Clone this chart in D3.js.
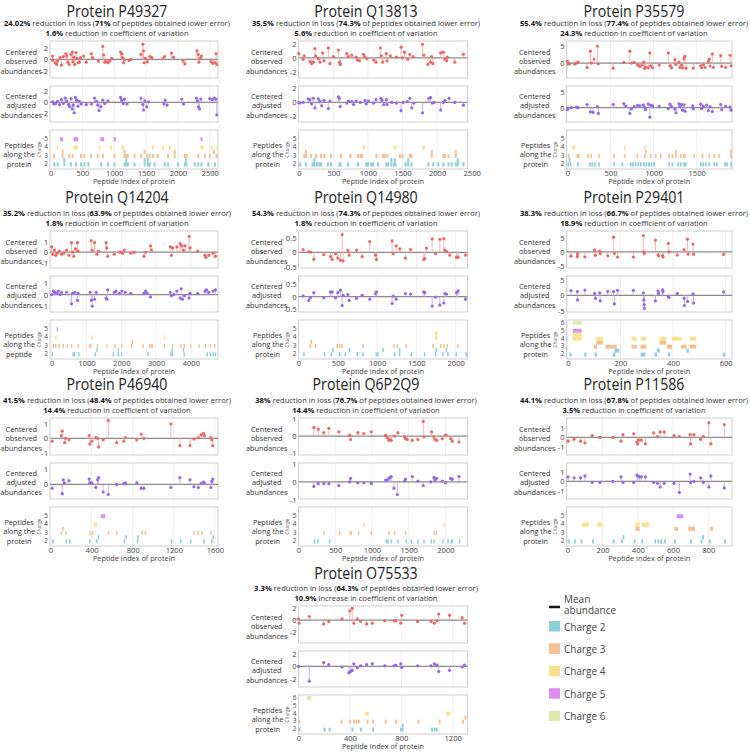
<!DOCTYPE html>
<html>
<head>
<meta charset="utf-8">
<script src="https://cdn.jsdelivr.net/npm/d3@7"></script>
<style>
  body { margin: 0; background: #fff; }
  text { font-family: "Open Sans", "Noto Sans", sans-serif; }
</style>
</head>
<body>
<svg width="750" height="752"></svg>
<script>
// ---- chart values ----
const proteins = ["P49327", "Q13813", "P35579", "Q14204", "Q14980", "P29401", "P46940", "Q6P2Q9", "P11586", "O75533"]
const lossReduction = ["24.02%", "35.5%", "55.4%", "35.2%", "54.3%", "38.3%", "41.5%", "38%", "44.1%", "3.3%"]
const lowerError = ["71%", "74.3%", "77.4%", "63.9%", "74.3%", "66.7%", "48.4%", "76.7%", "67.8%", "64.3%"]
const cvChange = ["1.6%", "5.6%", "24.3%", "1.8%", "1.8%", "18.9%", "14.4%", "14.4%", "3.5%", "10.9%"]
const cvDirection = ["reduction", "reduction", "reduction", "reduction", "reduction", "reduction", "reduction", "reduction", "reduction", "increase"]
const legendCharges = [2, 3, 4, 5, 6]

// observed / adjusted abundances: [peptide index, centered value]
const obsP49327 = [[30,0.6],[30,-0.2],[70,-0.6],[95,-0.9],[110,-0.3],[150,0.3],[170,-1.0],[200,0.5],[240,1.0],[255,0.6],[270,-0.5],[290,-0.9],[320,0.9],[340,1.3],[350,-0.4],[365,0.4],[380,-0.9],[400,1.2],[415,0.2],[430,-0.6],[450,-0.5],[470,0.3],[520,0.6],[560,-0.5],[640,1.0],[660,0.3],[750,-0.3],[820,2.3],[835,0.8],[850,-0.5],[870,-0.3],[900,-0.6],[930,-0.3],[960,0.2],[1100,1.3],[1120,1.0],[1130,0.3],[1145,-0.6],[1160,-0.1],[1230,-0.2],[1260,0.0],[1420,0.9],[1450,2.7],[1460,1.5],[1470,-0.6],[1490,0.2],[1520,-0.4],[1560,0.5],[1590,0.3],[1760,0.1],[1790,0.5],[1900,1.1],[1930,0.4],[2080,-0.3],[2110,-0.8],[2300,1.5],[2320,0.9],[2330,-0.5],[2350,0.2],[2370,0.6],[2520,-0.4],[2550,-0.7],[2580,-0.6],[2600,1.0],[2610,-0.9]]
const adjP49327 = [[30,0.1],[50,-0.3],[80,-0.2],[110,0.2],[140,-0.4],[170,0.5],[200,-0.2],[230,0.8],[250,0.3],[280,-0.4],[300,-0.8],[320,0.7],[340,-1.2],[355,-0.5],[370,-1.9],[390,0.9],[410,0.4],[430,-0.7],[450,0.2],[480,-0.3],[560,-0.4],[640,-0.3],[690,0.8],[720,0.2],[740,-0.5],[760,-1.5],[790,-0.8],[820,0.4],[850,-0.2],[900,0.3],[1100,0.9],[1120,0.4],[1140,-0.2],[1160,0.6],[1200,-0.3],[1420,0.8],[1450,-0.4],[1460,-1.4],[1480,0.3],[1510,-0.8],[1540,0.1],[1780,-0.3],[1800,0.4],[1830,-0.5],[2060,0.6],[2090,-0.3],[2290,0.8],[2310,0.3],[2320,-0.8],[2340,-1.2],[2360,0.6],[2500,0.7],[2540,0.5],[2570,0.8],[2600,0.6],[2610,-2.3]]
const obsQ13813 = [[0,0.6],[63,-0.2],[78,0.3],[160,-0.5],[184,-0.8],[209,-0.6],[233,1.3],[243,0.3],[281,-0.1],[306,-0.6],[344,0.7],[364,-0.4],[427,1.4],[451,-0.8],[500,0.2],[572,1.1],[587,-0.6],[597,-0.9],[600,-0.8],[694,0.6],[718,0.2],[766,0.4],[829,0.1],[849,-0.3],[878,-0.4],[936,0.5],[951,0.2],[985,-0.1],[1082,-0.3],[1116,-0.6],[1179,1.4],[1193,0.3],[1213,-0.6],[1266,0.6],[1276,-0.4],[1324,0.3],[1411,0.1],[1479,1.5],[1499,0.0],[1528,0.8],[1576,-0.2],[1605,0.5],[1654,0.2],[1790,1.9],[1809,0.4],[1867,-0.9],[1906,-0.6],[1921,0.2],[1940,-0.8],[2052,0.7],[2090,0.8],[2115,-0.2],[2139,-0.4],[2149,0.1],[2255,-0.6],[2381,0.5]]
const adjQ13813 = [[0,0.0],[15,-0.1],[63,0.0],[136,0.5],[160,0.4],[184,-0.2],[209,0.6],[233,-0.8],[281,0.5],[306,0.2],[330,-0.5],[364,0.3],[427,-0.9],[451,0.2],[572,0.8],[587,0.6],[597,-0.6],[694,-0.1],[718,0.2],[766,0.1],[791,-0.3],[829,0.2],[888,0.0],[960,0.3],[975,-0.2],[1009,0.2],[1082,-0.1],[1116,0.4],[1188,0.6],[1203,0.3],[1227,-0.3],[1266,0.4],[1276,-0.3],[1348,0.0],[1411,-0.1],[1479,-1.2],[1508,0.0],[1567,0.1],[1605,0.6],[1634,-0.8],[1664,-0.1],[1790,-1.5],[1882,0.6],[1906,0.7],[1930,-0.1],[1955,0.0],[2052,-1.1],[2090,0.0],[2115,0.3],[2173,0.6],[2255,0.0],[2381,-0.4]]
const obsP35579 = [[0,0.5],[8,-0.3],[27,-0.2],[85,-0.3],[105,0.0],[124,0.3],[229,-1.3],[267,3.5],[279,0.0],[310,1.2],[349,5.0],[360,-0.2],[531,-1.5],[655,0.2],[725,3.5],[744,0.0],[775,0.2],[814,-0.6],[841,-1.0],[868,-0.5],[888,0.3],[895,-1.6],[907,-1.2],[938,-1.4],[957,3.0],[965,-0.8],[988,-1.4],[1066,-0.6],[1171,3.0],[1190,-0.8],[1209,-1.4],[1248,1.0],[1260,-0.4],[1295,0.3],[1306,-1.3],[1326,-0.6],[1337,-1.4],[1353,1.3],[1364,2.0],[1376,-1.5],[1461,-1.5],[1547,-0.9],[1558,-1.4],[1578,-0.5],[1597,-1.3],[1636,0.5],[1647,1.2],[1655,-0.9],[1682,2.7],[1694,-1.3],[1779,2.2],[1791,-1.0],[1837,-1.3],[1888,2.3],[1899,-0.8]]
const adjP35579 = [[0,-0.6],[8,-0.3],[47,0.0],[105,0.2],[124,0.0],[229,1.0],[267,-1.3],[298,-1.5],[349,0.3],[360,-1.8],[531,1.0],[655,1.3],[678,0.5],[725,-1.8],[744,-0.4],[775,0.3],[814,0.7],[841,0.6],[880,0.9],[895,0.2],[907,-0.6],[938,1.2],[957,-3.0],[965,0.8],[988,0.6],[1066,0.4],[1171,-0.3],[1190,1.1],[1209,0.3],[1248,-0.5],[1260,-1.6],[1295,1.2],[1306,0.3],[1326,1.0],[1337,-0.8],[1353,0.9],[1364,-1.1],[1454,0.6],[1461,-0.4],[1547,1.1],[1558,-0.3],[1578,0.4],[1616,0.8],[1636,-0.9],[1655,0.3],[1682,-1.2],[1779,1.0],[1791,-0.6],[1837,0.4],[1888,0.2],[1899,-0.8]]
const obsQ14204 = [[0,0.5],[28,-0.2],[76,0.2],[114,-0.3],[161,-0.1],[218,0.1],[284,-0.2],[350,-0.1],[426,0.2],[492,-0.3],[568,0.9],[597,0.0],[634,-0.4],[682,0.3],[739,0.9],[757,0.1],[1136,1.1],[1165,0.2],[1231,0.9],[1297,-0.2],[1345,0.1],[1563,0.9],[1582,0.4],[1610,-0.4],[1799,-0.2],[1960,0.0],[2036,-0.1],[2083,0.2],[2273,-0.1],[2368,0.0],[2652,-0.4],[2699,0.0],[2841,0.6],[2869,0.2],[3409,0.5],[3438,-0.3],[3475,0.4],[3599,0.5],[3693,0.8],[3741,0.6],[3788,0.2],[3835,0.6],[3949,1.5],[3977,0.4],[4195,0.1],[4404,-0.3],[4432,-0.5],[4517,-0.3],[4640,-0.1],[4706,-0.4]]
const adjQ14204 = [[0,0.0],[47,0.3],[95,0.2],[142,0.1],[189,0.3],[237,0.0],[284,0.2],[426,0.2],[568,-0.8],[597,0.1],[663,0.2],[739,-0.5],[757,0.1],[1108,0.2],[1136,-0.5],[1165,-1.0],[1231,-0.4],[1278,0.2],[1563,-0.3],[1582,-0.4],[1610,0.4],[1799,0.2],[1847,0.3],[1941,0.1],[2017,0.3],[2112,0.2],[2273,0.1],[2652,0.1],[2699,0.3],[2746,0.1],[2841,-0.2],[3409,0.2],[3438,-0.1],[3504,0.0],[3599,0.3],[3693,-0.3],[3722,0.5],[3760,-0.4],[3816,-0.1],[3949,-0.3],[3977,0.1],[4195,0.1],[4404,0.3],[4451,0.4],[4517,0.2],[4640,0.3],[4706,0.4]]
const obsQ14980 = [[59,0.1],[131,0.02],[153,0.01],[195,-0.25],[322,-0.08],[407,-0.15],[428,-0.25],[471,-0.05],[500,-0.2],[534,-0.28],[555,0.62],[568,-0.3],[628,0.07],[644,-0.1],[738,0.08],[810,-0.15],[907,0.38],[979,-0.1],[992,-0.25],[1191,0.4],[1204,-0.05],[1242,0.23],[1289,0.12],[1361,-0.2],[1425,0.1],[1594,-0.25],[1607,-0.22],[1628,0.15],[1700,0.47],[1743,-0.05],[1798,0.46],[1849,0.48],[1861,0.08],[1883,0.03],[1925,-0.1],[2010,-0.18],[2031,-0.17],[2124,-0.1]]
const adjQ14980 = [[59,0.03],[131,-0.15],[153,-0.05],[195,0.15],[322,-0.05],[407,0.18],[428,0.18],[471,-0.05],[500,0.15],[534,0.25],[555,-0.35],[568,0.05],[628,0.08],[644,-0.15],[738,-0.07],[810,0.05],[907,-0.1],[979,0.12],[992,0.18],[1191,-0.27],[1204,0.02],[1242,-0.1],[1361,0.12],[1425,0.1],[1594,0.18],[1607,0.15],[1700,-0.37],[1743,-0.02],[1798,-0.33],[1849,-0.25],[1861,0.12],[1883,0.1],[2010,0.15],[2031,0.22],[2124,-0.1]]
const obsP29401 = [[12,-1.5],[36,-1.6],[37,-0.6],[65,-1.8],[102,0.6],[105,-1.2],[121,0.3],[123,-0.6],[152,-1.4],[174,5.2],[177,-0.6],[189,-1.8],[249,-1.8],[287,5.8],[289,0.0],[291,-0.6],[333,4.2],[343,-1.0],[345,-1.4],[360,-1.3],[362,-1.8],[382,3.0],[385,0.0],[416,-1.1],[442,0.8],[455,4.5],[457,-0.8],[476,2.8],[478,-0.8],[592,-0.9]]
const adjP29401 = [[12,1.5],[36,1.2],[37,-1.5],[65,1.7],[102,0.6],[105,-1.0],[121,0.8],[123,-1.8],[152,1.3],[174,1.2],[177,-2.8],[189,1.6],[249,1.6],[287,0.8],[289,-1.5],[290,-3.0],[291,-4.2],[333,-1.8],[343,1.4],[345,0.6],[360,1.8],[362,1.2],[382,-0.4],[385,-0.7],[416,0.6],[442,-1.0],[443,-3.3],[455,-2.0],[476,0.5],[478,-2.5],[592,1.1]]
const obsP46940 = [[16,-0.2],[105,0.2],[114,0.5],[137,-0.3],[147,0.0],[180,-0.1],[376,0.2],[383,-0.4],[402,-0.2],[441,0.05],[458,0.0],[468,-0.6],[513,-0.1],[562,1.25],[644,-0.3],[713,-0.2],[729,0.05],[840,-0.1],[883,0.3],[909,0.0],[1171,1.0],[1259,-0.5],[1357,-0.5],[1396,-0.05],[1439,0.05],[1465,0.25],[1488,0.35],[1498,0.2],[1560,0.05],[1570,-0.1],[1579,-0.5]]
const adjP46940 = [[16,-0.25],[114,-0.6],[124,0.3],[137,0.1],[180,0.25],[376,0.35],[383,0.1],[402,0.1],[441,-0.2],[458,0.3],[468,0.45],[513,-0.5],[562,-0.65],[644,0.0],[713,0.05],[729,0.1],[840,0.1],[883,-0.25],[909,-0.25],[1171,-0.2],[1259,0.45],[1357,0.3],[1396,-0.15],[1439,-0.2],[1465,0.05],[1488,0.15],[1498,0.1],[1560,-0.2],[1570,0.2],[1579,0.35]]
const obsQ6P2Q9 = [[209,0.5],[268,0.4],[345,0.2],[413,0.45],[549,0.25],[695,0.05],[708,-0.2],[808,0.2],[890,0.15],[990,0.25],[1185,0.05],[1208,-0.1],[1230,-0.25],[1244,-0.2],[1262,-0.25],[1308,0.0],[1353,0.2],[1444,-0.05],[1457,-0.15],[1480,-0.2],[1548,-0.25],[1625,-0.2],[1698,0.85],[1707,-0.05],[1811,0.25],[1843,-0.05],[1857,-0.2],[1880,-0.25],[1957,-0.15],[2002,0.05],[2070,-0.15],[2093,-0.3],[2184,-0.35]]
const adjQ6P2Q9 = [[209,-0.25],[268,-0.1],[345,-0.1],[413,-0.1],[549,-0.2],[695,0.0],[708,0.2],[808,-0.05],[890,-0.05],[990,-0.1],[1185,0.1],[1208,0.1],[1230,0.2],[1244,0.25],[1262,0.3],[1298,-0.35],[1344,-0.7],[1444,0.05],[1457,0.15],[1548,0.3],[1625,0.05],[1698,-0.2],[1798,0.0],[1843,0.25],[1857,0.1],[1880,0.2],[1957,0.05],[2002,-0.05],[2070,0.2],[2093,0.15],[2184,0.3]]
const obsP11586 = [[4,-0.4],[38,-0.2],[75,-0.4],[100,-0.6],[141,0.2],[185,0.0],[258,0.0],[305,-0.4],[316,0.3],[377,0.4],[395,-0.5],[399,-0.7],[405,-0.3],[420,-0.3],[443,-0.7],[490,0.5],[512,0.1],[527,0.6],[550,0.6],[606,0.2],[636,0.1],[697,0.3],[700,-0.7],[719,0.3],[757,-0.2],[772,0.1],[804,1.6],[815,-0.7],[891,1.4]]
const adjP11586 = [[4,0.5],[38,0.4],[75,0.4],[100,0.6],[141,-0.1],[185,-0.1],[258,0.0],[305,0.5],[316,-0.1],[377,-0.1],[395,0.7],[399,0.6],[410,0.5],[420,0.5],[443,0.5],[490,-0.1],[512,-0.2],[527,-0.6],[550,-0.2],[606,-0.2],[636,-1.2],[697,0.8],[700,-0.1],[719,0.0],[757,0.4],[772,-0.1],[804,-0.6],[815,0.6],[891,-0.7]]
const obsO75533 = [[0,0.2],[5,-0.5],[84,0.6],[196,-0.6],[235,-0.2],[339,0.2],[399,1.5],[418,1.9],[431,-0.5],[457,0.2],[483,-0.2],[530,-0.6],[574,-0.5],[671,-0.1],[744,-0.1],[757,-0.1],[796,-0.5],[804,0.8],[927,-0.2],[1031,-0.2],[1057,-0.5],[1078,-0.1],[1091,1.0],[1175,0.8],[1274,0.4],[1292,-0.5]]
const adjO75533 = [[0,0.0],[84,-2.3],[196,0.6],[235,0.3],[339,-0.1],[392,-1.0],[405,-0.8],[418,-0.6],[431,0.4],[457,-0.2],[483,0.1],[530,0.3],[574,0.4],[671,0.1],[744,0.1],[757,0.2],[796,0.4],[804,-0.2],[927,0.1],[1031,0.1],[1057,0.4],[1078,0.2],[1091,-0.8],[1175,-0.6],[1274,-0.1],[1292,0.2]]

// peptides along the protein: [start, charge, stack level, length (optional)]
const pepP49327 = [[147,5,0,50],[360,5,0,70],[780,5,0,60],[989,5,0,40],[2356,5,0,30],
  [94,4,0],[360,4,0,70],[752,4,0],[936,4,0],[1120,4,0],[1593,4,0],[1751,4,0],[1856,4,0],[2356,4,0,50],[2514,4,0],[2605,4,0,20],
  [173,3,1],[1146,3,1],[1462,3,1],[1935,3,1],[2551,3,1],
  [36,3,0],[173,3,0],[278,3,0],[330,3,0],[462,3,0],[515,3,0],[620,3,0],[725,3,0],[805,3,0],[989,3,0],[1146,3,0],[1173,3,0],[1199,3,0],[1304,3,0],[1409,3,0],[1499,3,0],[1541,3,0],[1593,3,0],[1672,3,0],[1830,3,0],[1935,3,0],[2093,3,0],[2119,3,0],[2304,3,0],[2409,3,0],[2488,3,0],[2593,3,0],
  [200,2,1],[1173,2,1],[1462,2,1],[1514,2,1],[2109,2,1],
  [46,2,0],[94,2,0],[200,2,0],[305,2,0],[383,2,0],[462,2,0],[515,2,0],[578,2,0],[778,2,0],[884,2,0],[989,2,0],[1146,2,0],[1173,2,0],[1199,2,0],[1304,2,0],[1462,2,0],[1514,2,0],[1541,2,0],[1619,2,0],[1777,2,0],[1830,2,0],[1988,2,0],[2093,2,0],[2119,2,0],[2251,2,0],[2304,2,0],[2356,2,0],[2462,2,0],[2567,2,0]]
const pepQ13813 = [[922,4,0,35],[1373,4,0,35],[1785,4,0,35],
  [87,3,1],[1907,3,1],[2255,3,1],
  [63,3,0],[87,3,0],[160,3,0],[233,3,0],[306,3,0],[354,3,0],[451,3,0],[597,3,0],[732,3,0],[839,3,0],[878,3,0],[902,3,0],[1106,3,0],[1203,3,0],[1227,3,0],[1266,3,0],[1445,3,0],[1484,3,0],[1591,3,0],[1615,3,0],[1906,3,0],[2076,3,0],[2100,3,0],[2149,3,0],[2255,3,0],
  [209,2,1],[1324,2,1],[1373,2,1],[1567,2,1],[2284,2,1],
  [5,2,0],[87,2,0],[184,2,0],[209,2,0],[247,2,0],[281,2,0],[306,2,0],[403,2,0],[451,2,0],[572,2,0],[587,2,0],[694,2,0],[839,2,0],[960,2,0],[985,2,0],[1033,2,0],[1057,2,0],[1130,2,0],[1251,2,0],[1276,2,0],[1324,2,0],[1363,2,0],[1382,2,0],[1528,2,0],[1567,2,0],[1615,2,0],[1858,2,0],[1930,2,0],[2003,2,0],[2076,2,0],[2149,2,0],[2197,2,0],[2255,2,0],[2284,2,0],[2367,2,0]]
const pepP35579 = [[58,4,0,35],[655,4,0],[888,4,0],
  [900,3,1],[1248,3,1],[1888,3,1],
  [8,3,0],[105,3,0],[124,3,0],[229,3,0],[267,3,0],[357,3,0],[531,3,0],[655,3,0],[802,3,0],[888,3,0],[957,3,0],[1016,3,0],[1074,3,0],[1171,3,0],[1209,3,0],[1248,3,0],[1306,3,0],[1337,3,0],[1353,3,0],[1461,3,0],[1558,3,0],[1636,3,0],[1694,3,0],[1752,3,0],[1888,3,0],
  [16,2,1],
  [0,2,0],[27,2,0],[112,2,0],[252,2,0],[279,2,0],[310,2,0],[357,2,0],[531,2,0],[628,2,0],[725,2,0],[752,2,0],[783,2,0],[814,2,0],[841,2,0],[880,2,0],[907,2,0],[938,2,0],[965,2,0],[996,2,0],[1171,2,0],[1209,2,0],[1275,2,0],[1306,2,0],[1345,2,0],[1364,2,0],[1539,2,0],[1566,2,0],[1597,2,0],[1636,2,0],[1694,2,0],[1725,2,0],[1818,2,0],[1841,2,0],[1888,2,0]]
const pepQ14204 = [[142,5,0],[95,4,0],[1136,4,0],[3220,4,0],
  [2301,3,1],
  [28,3,0],[95,3,0],[189,3,0],[313,3,0],[426,3,0],[549,3,0],[739,3,0],[1070,3,0],[1108,3,0],[1297,3,0],[1563,3,0],[1799,3,0],[1989,3,0],[2273,3,0],[2604,3,0],[2794,3,0],[2841,3,0],[2869,3,0],[3220,3,0],[3457,3,0],[3693,3,0],[3788,3,0],[3977,3,0],[4214,3,0],[4404,3,0],[4546,3,0],[4669,3,0],
  [1278,2,1],[1894,2,1],[3438,2,1],[3769,2,1],
  [0,2,0],[597,2,0],[634,2,0],[757,2,0],[1231,2,0],[1752,2,0],[1894,2,0],[1989,2,0],[2746,2,0],[3409,2,0],[3457,2,0],[3788,2,0],[4451,2,0],[4546,2,0],[4621,2,0],[4688,2,0]]
const pepQ14980 = [[1734,4,0,35],[1734,4,1,35],
  [153,3,1],
  [140,3,0],[204,3,0],[483,3,0],[513,3,0],[543,3,0],[810,3,0],[1204,3,0],[1247,3,0],[1361,3,0],[1700,3,0],[1798,3,0],[1840,3,0],[1883,3,0],[2018,3,0],
  [428,2,1],[640,2,1],[1064,2,1],[1276,2,1],[1743,2,1],[1870,2,1],
  [59,2,0],[322,2,0],[407,2,0],[513,2,0],[585,2,0],[738,2,0],[810,2,0],[979,2,0],[1001,2,0],[1213,2,0],[1276,2,0],[1425,2,0],[1594,2,0],[1734,2,0],[1827,2,0],[1891,2,0],[1997,2,0],[2124,2,0]]
const pepP29401 = [[19,6,0,34],[19,5,0,34],[19,4,1,34],[19,4,0,34],
  [108,4,0,25],[242,4,0,20],[277,4,0,21],[349,4,0,25],[395,4,0,37],[463,4,0,25],
  [108,3,1,25],[349,3,1,25],
  [98,3,0,13],[143,3,0,28],[171,3,0,15],[242,3,0,20],[277,3,0,21],[376,3,0,20],[430,3,0,21],[463,3,0,25],
  [177,2,1,19],[339,2,1,10],[451,2,1,9],
  [6,2,0,9],[62,2,0,9],[102,2,0,9],[171,2,0,10],[277,2,0,18],[330,2,0,9],[380,2,0,9],[589,2,0,9]]
const pepP46940 = [[490,5,0,43],[419,4,0,32],
  [114,3,1],
  [98,3,0],[141,3,0],[376,3,0],[402,3,0],[556,3,0],[638,3,0],[883,3,0],[916,3,0],[1390,3,0],[1429,3,0],[1465,3,0],[1553,3,0],
  [458,2,1],[729,2,1],[844,2,1],[1576,2,1],
  [16,2,0],[147,2,0],[180,2,0],[376,2,0],[441,2,0],[713,2,0],[840,2,0],[1171,2,0],[1259,2,0],[1357,2,0],[1488,2,0],[1563,2,0]]
const pepQ6P2Q9 = [[880,4,0,25],[1961,4,0,25],
  [336,3,0],[549,3,0],[695,3,0],[708,3,0],[808,3,0],[981,3,0],[1221,3,0],[1298,3,0],[1448,3,0],[1834,3,0],[1866,3,0],
  [209,2,0],[254,2,0],[413,2,0],[1185,2,0],[1208,2,0],[1253,2,0],[1344,2,0],[1457,2,0],[1525,2,0],[1616,2,0],[1698,2,0],[1798,2,0],[1834,2,0],[1957,2,0],[2025,2,0],[2070,2,0],[2084,2,0],[2184,2,0]]
const pepP11586 = [[621,5,0,38],
  [81,4,0,41],[169,4,0,29],[386,4,0,24],[424,4,0,41],
  [386,3,1,24],[607,3,1,21],[687,3,1,38],[809,3,1,19],
  [314,2,1],[766,2,1],
  [4,2,0],[38,2,0],[75,2,0],[141,2,0],[258,2,0],[305,2,0],[377,2,0],[420,2,0],[494,2,0],[512,2,0],[527,2,0],[550,2,0],[606,2,0],[697,2,0],[757,2,0],[804,2,0],[891,2,0]]
const pepO75533 = [[65,6,0,34],[517,4,0,31],[1148,4,0,34],
  [1292,3,1],
  [0,3,0],[326,3,0],[392,3,0],[425,3,0],[444,3,0],[462,3,0],[530,3,0],[574,3,0],[671,3,0],[752,3,0],[927,3,0],[1091,3,0],[1274,3,0],
  [804,2,1],
  [0,2,0],[196,2,0],[235,2,0],[412,2,0],[478,2,0],[574,2,0],[789,2,0],[804,2,0],[1031,2,0],[1052,2,0],[1070,2,0]]

// ---- layout and styling ----
const chargeColor = {2: "#8cd0d9", 3: "#f5c193", 4: "#fbe08f", 5: "#dc8ff0", 6: "#dfe9ad"}

const panels = [
  {obs: obsP49327, adj: adjP49327, pep: pepP49327, col: 0, row: 0, xDom: [-10, 2630], xTicks: [0, 500, 1000, 1500, 2000, 2500], obsDom: [-3.3, 3.26], obsTicks: [-2, 0, 2], adjDom: [-3.6, 3.0], adjTicks: [-2, 0, 2], maxCharge: 5, pepLen: 30, track: "protein"},
  {obs: obsQ13813, adj: adjQ13813, pep: pepQ13813, col: 1, row: 0, xDom: [-5, 2440], xTicks: [0, 500, 1000, 1500, 2000, 2500], obsDom: [-2.8, 2.36], obsTicks: [-2, 0, 2], adjDom: [-2.83, 2.37], adjTicks: [-2, 0, 2], maxCharge: 5, pepLen: 30, track: "protein"},
  {obs: obsP35579, adj: adjP35579, pep: pepP35579, col: 2, row: 0, xDom: [-10, 1910], xTicks: [0, 500, 1000, 1500], obsDom: [-4.4, 6.5], obsTicks: [0, 5], adjDom: [-4.5, 6.8], adjTicks: [0, 5], maxCharge: 5, pepLen: 20, track: "protein"},
  {obs: obsQ14204, adj: adjQ14204, pep: pepQ14204, col: 0, row: 1, xDom: [-50, 4780], xTicks: [0, 1000, 2000, 3000, 4000], obsDom: [-1.5, 2.0], obsTicks: [-1, 0, 1], adjDom: [-1.5, 1.6], adjTicks: [-1, 0, 1], maxCharge: 5, pepLen: 40, track: "peptide"},
  {obs: obsQ14980, adj: adjQ14980, pep: pepQ14980, col: 1, row: 1, xDom: [0, 2150], xTicks: [0, 500, 1000, 1500, 2000], obsDom: [-0.55, 0.75], obsTicks: [-0.5, 0, 0.5], adjDom: [-0.6, 0.8], adjTicks: [-0.5, 0, 0.5], maxCharge: 5, pepLen: 20, track: "protein"},
  {obs: obsP29401, adj: adjP29401, pep: pepP29401, col: 2, row: 1, xDom: [-5, 624], xTicks: [0, 200, 400, 600], obsDom: [-5.7, 7.4], obsTicks: [-5, 0, 5], adjDom: [-5.4, 6.25], adjTicks: [-5, 0, 5], maxCharge: 6, pepLen: 10, track: "protein"},
  {obs: obsP46940, adj: adjP46940, pep: pepP46940, col: 0, row: 2, xDom: [-5, 1630], xTicks: [0, 400, 800, 1200, 1600], obsDom: [-1.16, 1.42], obsTicks: [-1, 0, 1], adjDom: [-0.95, 1.4], adjTicks: [0, 1], maxCharge: 5, pepLen: 15, track: "protein"},
  {obs: obsQ6P2Q9, adj: adjQ6P2Q9, pep: pepQ6P2Q9, col: 1, row: 2, xDom: [0, 2300], xTicks: [0, 500, 1000, 1500, 2000], obsDom: [-1.1, 1.05], obsTicks: [-1, 0, 1], adjDom: [-0.95, 1.05], adjTicks: [-1, 0, 1], maxCharge: 5, pepLen: 20, track: "protein"},
  {obs: obsP11586, adj: adjP11586, pep: pepP11586, col: 2, row: 2, xDom: [-5, 935], xTicks: [0, 200, 400, 600, 800], obsDom: [-1.9, 2.1], obsTicks: [-1, 0, 1], adjDom: [-1.9, 2.0], adjTicks: [-1, 0, 1], maxCharge: 5, pepLen: 10, track: "protein"},
  {obs: obsO75533, adj: adjO75533, pep: pepO75533, col: 1, row: 3, xDom: [0, 1315], xTicks: [0, 400, 800, 1200], obsDom: [-3.7, 2.3], obsTicks: [-2, 0, 2], adjDom: [-3.2, 2.4], adjTicks: [-2, 0, 2], maxCharge: 6, pepLen: 15, track: "protein"}
]

const plotLeft = [50, 298.5, 566.5]
const plotWidth = [168, 169, 165.5]
const textCenter = [117, 366, 634]
const rowBase = [23, 213, 400, 588]
const titleBase = [16.5, 202.5, 389.5, 578.5]

const svg = d3.select("svg")
const fontFamily = '"Open Sans", "Noto Sans", sans-serif'

function leftLabel(g, lines, right, cy) {
    const t = g.append("text")
        .attr("text-anchor", "middle")
        .attr("font-size", 7.3)
        .attr("fill", "#333")
    lines.forEach((s, i) => {
        t.append("tspan").attr("dy", i === 0 ? 0 : 9.5).text(s)
    })
    let w = 0
    t.selectAll("tspan").each(function() { w = Math.max(w, this.getComputedTextLength()) })
    t.attr("transform", `translate(${Math.max(right - w / 2, w / 2 + 0.5)},${cy - 9.5 + 2.7})`)
    t.selectAll("tspan").attr("x", 0)
}

function frame(g, L, W, top, bot, x, xTicks) {
    g.append("g").selectAll("line")
        .data(xTicks.filter(d => x(d) > L + 1 && x(d) < L + W - 1))
        .enter().append("line")
        .attr("x1", d => x(d)).attr("x2", d => x(d))
        .attr("y1", top).attr("y2", bot)
        .attr("stroke", "#efefef")
    g.append("rect")
        .attr("x", L).attr("y", top).attr("width", W).attr("height", bot - top)
        .attr("fill", "none").attr("stroke", "#cfcfcf")
}

function yAxis(g, y, ticks, L, size) {
    const a = g.append("g")
        .attr("transform", `translate(${L},0)`)
        .call(d3.axisLeft(y).tickValues(ticks).tickSize(0).tickPadding(2).tickFormat(d => String(d)))
    a.select(".domain").remove()
    a.attr("font-size", size).attr("font-family", fontFamily).attr("color", "#444")
}

function lollipops(g, data, dom, ticks, L, W, top, bot, x, xTicks, dot, stem) {
    const y = d3.scaleLinear().domain(dom).range([bot, top])
    frame(g, L, W, top, bot, x, xTicks)
    g.append("line")
        .attr("x1", L).attr("x2", L + W)
        .attr("y1", y(0)).attr("y2", y(0))
        .attr("stroke", "#8a8a8a").attr("stroke-width", 1.2)
    g.append("g").selectAll("line")
        .data(data)
        .enter().append("line")
        .attr("x1", d => x(d[0])).attr("x2", d => x(d[0]))
        .attr("y1", y(0)).attr("y2", d => y(d[1]))
        .attr("stroke", stem).attr("stroke-width", 0.9)
    g.append("g").selectAll("circle")
        .data(data)
        .enter().append("circle")
        .attr("cx", d => x(d[0])).attr("cy", d => y(d[1]))
        .attr("r", 1.6)
        .attr("fill", dot)
    yAxis(g, y, ticks, L, 7.6)
    return y
}

panels.forEach((p, i) => {
    const g = svg.append("g")
    const L = plotLeft[p.col], W = plotWidth[p.col], base = rowBase[p.row], cx = textCenter[p.col]
    const x = d3.scaleLinear().domain(p.xDom).range([L, L + W])

    const title = g.append("text")
        .attr("x", cx).attr("y", titleBase[p.row])
        .attr("text-anchor", "middle")
        .attr("font-size", 16.5)
        .attr("fill", "#222")
        .text("Protein " + proteins[i])
    title.attr("textLength", title.node().getComputedTextLength() * 0.86)
        .attr("lengthAdjust", "spacingAndGlyphs")

    const l1 = g.append("text")
        .attr("x", cx).attr("y", base + 3)
        .attr("text-anchor", "middle").attr("font-size", 7.6).attr("fill", "#333")
    l1.append("tspan").attr("font-weight", 700).attr("fill", "#111").text(lossReduction[i])
    l1.append("tspan").text(" reduction in loss (")
    l1.append("tspan").attr("font-weight", 700).attr("fill", "#111").text(lowerError[i])
    l1.append("tspan").text(" of peptides obtained lower error)")

    const l2 = g.append("text")
        .attr("x", cx).attr("y", base + 13)
        .attr("text-anchor", "middle").attr("font-size", 7.6).attr("fill", "#333")
    l2.append("tspan").attr("font-weight", 700).attr("fill", "#111").text(cvChange[i])
    l2.append("tspan").text(" " + cvDirection[i] + " in coefficient of variation")

    // observed
    const oTop = base + 18, oBot = base + 55
    lollipops(g, p.obs, p.obsDom, p.obsTicks, L, W, oTop, oBot, x, p.xTicks, "#ef6666", "#f4abab")
    leftLabel(g, ["Centered", "observed", "abundances"], L - 11, (oTop + oBot) / 2 + 2)

    // adjusted
    const aTop = base + 63, aBot = base + 99
    lollipops(g, p.adj, p.adjDom, p.adjTicks, L, W, aTop, aBot, x, p.xTicks, "#9567e6", "#c3abf0")
    leftLabel(g, ["Centered", "adjusted", "abundances"], L - 11, (aTop + aBot) / 2 + 1.5)

    // peptides track
    const tTop = base + 107, tBot = base + 146
    const yc = d3.scaleLinear().domain([1.35, p.maxCharge === 6 ? 6.25 : 6.0]).range([tBot, tTop])
    frame(g, L, W, tTop, tBot, x, p.xTicks)
    g.append("g").selectAll("rect")
        .data(p.pep)
        .enter().append("rect")
        .attr("x", d => x(d[0]))
        .attr("width", d => Math.max(1.4, x(d[0] + (d[3] || p.pepLen)) - x(d[0])))
        .attr("y", d => yc(d[1] - 0.1 + d[2] * 0.5 + 0.25))
        .attr("height", d => yc(0) - yc(0.5))
        .attr("fill", d => chargeColor[d[1]])
    yAxis(g, yc, d3.range(2, p.maxCharge + 1), L, 6.5)
    g.append("text")
        .attr("transform", `translate(${L - 9.5},${(tTop + tBot) / 2}) rotate(-90)`)
        .attr("text-anchor", "middle").attr("font-size", 4.8).attr("fill", "#444")
        .text("Charge")
    leftLabel(g, ["Peptides", "along the", p.track], L - 15, (tTop + tBot) / 2 + 5)

    const ax = g.append("g")
        .attr("transform", `translate(0,${tBot})`)
        .call(d3.axisBottom(x).tickValues(p.xTicks).tickSize(0).tickPadding(2).tickFormat(d => String(d)))
    ax.select(".domain").remove()
    ax.attr("font-size", 7.6).attr("font-family", fontFamily).attr("color", "#444")

    g.append("text")
        .attr("x", L + W / 2).attr("y", base + 160.5)
        .attr("text-anchor", "middle").attr("font-size", 7.3).attr("fill", "#444")
        .text("Peptide index of protein")
})

// legend
const lg = svg.append("g").attr("transform", "translate(549,0)")
lg.append("line").attr("x1", 0).attr("x2", 11).attr("y1", 607).attr("y2", 607)
    .attr("stroke", "#111").attr("stroke-width", 2.5)
lg.append("text").attr("x", 15).attr("y", 603).attr("font-size", 10).attr("fill", "#444").text("Mean")
lg.append("text").attr("x", 15).attr("y", 614).attr("font-size", 10).attr("fill", "#444").text("abundance")
lg.selectAll(".item")
    .data(legendCharges)
    .enter().append("g")
    .each(function(c, k) {
        const yy = 621 + k * 22.4
        d3.select(this).append("rect").attr("x", 0).attr("y", yy).attr("width", 11).attr("height", 10.5)
            .attr("fill", chargeColor[c])
        d3.select(this).append("text").attr("x", 15).attr("y", yy + 9.5)
            .attr("font-size", 10).attr("fill", "#444").text("Charge " + c)
    })
</script>
</body>
</html>
